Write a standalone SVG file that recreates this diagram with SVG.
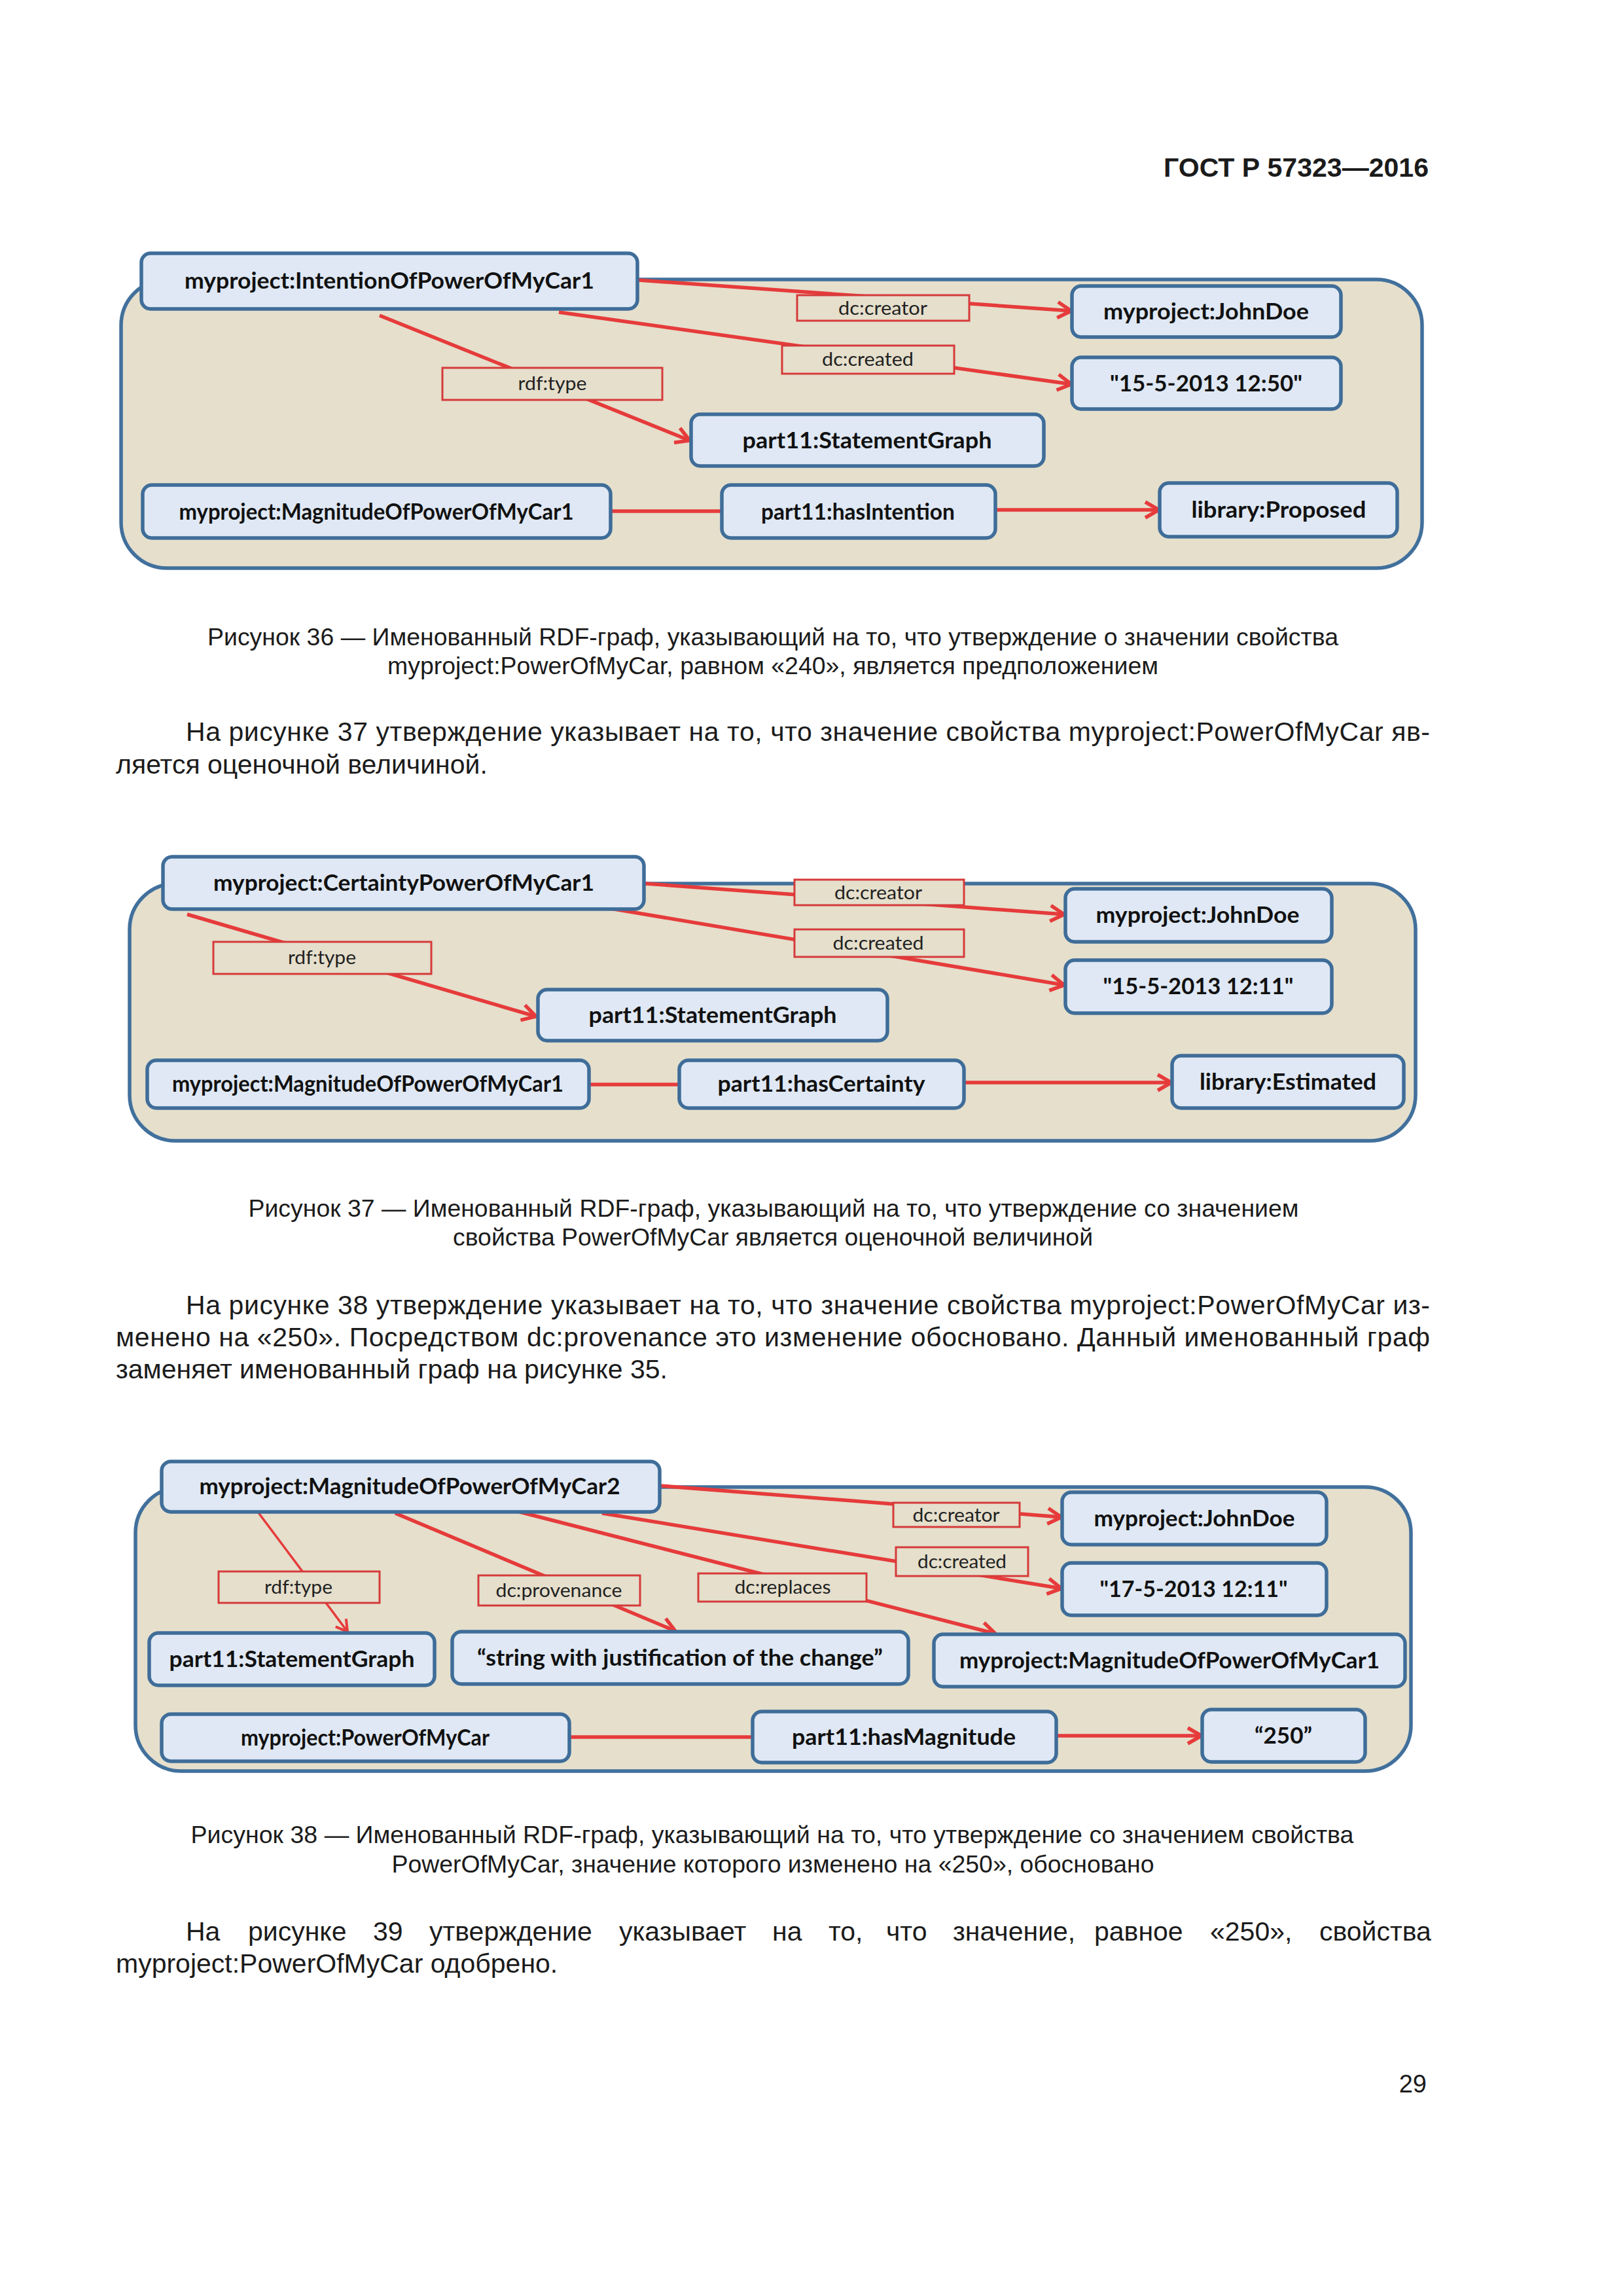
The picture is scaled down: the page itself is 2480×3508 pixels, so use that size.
<svg xmlns="http://www.w3.org/2000/svg" width="2480" height="3508" viewBox="0 0 2480 3508">
<defs>
<style>
.cont{fill:#e5dfcc;stroke:#41709c;stroke-width:5.5}
.node{fill:#dfe8f4;stroke:#3f6d99;stroke-width:5.5}
.lbl{fill:#e5dfcc;stroke:#d63a3a;stroke-width:3}
.ln{stroke:#e63b3b;stroke-width:5.5;fill:none}
.lnt{stroke:#e63b3b;stroke-width:3.5;fill:none}
.arr{marker-end:url(#arr)}
.arrt{marker-end:url(#arrt)}
.nt{font-family:Lato,"Liberation Sans",sans-serif;font-weight:700;font-size:34px;fill:#111;text-anchor:middle}
.lt{font-family:Lato,"Liberation Sans",sans-serif;font-size:29px;fill:#222;text-anchor:middle}
.body{font-family:"Liberation Sans",Arial,sans-serif;font-size:41px;fill:#1b1b1b}
.cap{font-family:"Liberation Sans",Arial,sans-serif;font-size:37px;fill:#1b1b1b;text-anchor:middle}
.hdr{font-family:"Liberation Sans",Arial,sans-serif;font-size:41px;font-weight:700;fill:#1b1b1b;text-anchor:end}
.pg{font-family:"Liberation Sans",Arial,sans-serif;font-size:38px;fill:#1b1b1b;text-anchor:end}
</style>
<marker id="arr" viewBox="0 0 26 26" refX="23" refY="13" markerWidth="26" markerHeight="26" markerUnits="userSpaceOnUse" orient="auto" overflow="visible">
<path d="M2,1 L23,13 L2,25" fill="none" stroke="#e63b3b" stroke-width="5.5"/>
</marker>
<marker id="arrt" viewBox="0 0 24 24" refX="21" refY="12" markerWidth="24" markerHeight="24" markerUnits="userSpaceOnUse" orient="auto" overflow="visible">
<path d="M4,2 L21,12 L4,22" fill="none" stroke="#e63b3b" stroke-width="4"/>
</marker>
</defs>
<rect width="2480" height="3508" fill="#ffffff"/>

<text id="header" class="hdr" x="2183" y="270" textLength="405" lengthAdjust="spacingAndGlyphs">ГОСТ Р 57323—2016</text>

<!-- ================= Figure 36 ================= -->
<g id="fig36">
<rect id="f36-container" class="cont" x="185" y="427" width="1988" height="441" rx="70"/>
<g id="f36-connectors">
<line class="ln arr" x1="976" y1="428" x2="1637" y2="475"/>
<rect class="lbl" x="1218" y="451" width="263" height="39"/>
<text class="lt" x="1349" y="481" textLength="136" lengthAdjust="spacingAndGlyphs">dc:creator</text>
<line class="ln arr" x1="854" y1="477" x2="1637" y2="587"/>
<rect class="lbl" x="1195" y="528" width="263" height="43"/>
<text class="lt" x="1326" y="559" textLength="140" lengthAdjust="spacingAndGlyphs">dc:created</text>
<line class="ln arr" x1="580" y1="482" x2="1054" y2="673"/>
<rect class="lbl" x="676" y="562" width="336" height="49"/>
<text class="lt" x="844" y="596" textLength="105" lengthAdjust="spacingAndGlyphs">rdf:type</text>
<line class="ln" x1="933" y1="781" x2="1103" y2="781"/>
<line class="ln arr" x1="1521" y1="779" x2="1771" y2="779"/>
</g>
<g id="f36-n-intention"><rect class="node" x="216" y="387" width="758" height="85" rx="14"/><text class="nt" x="595" y="441" textLength="626" lengthAdjust="spacingAndGlyphs">myproject:IntentionOfPowerOfMyCar1</text></g>
<g id="f36-n-johndoe"><rect class="node" x="1638" y="437" width="411" height="78" rx="14"/><text class="nt" x="1843" y="488" textLength="314" lengthAdjust="spacingAndGlyphs">myproject:JohnDoe</text></g>
<g id="f36-n-date"><rect class="node" x="1638" y="546" width="411" height="79" rx="14"/><text class="nt" x="1843" y="598" textLength="294" lengthAdjust="spacingAndGlyphs">"15-5-2013 12:50"</text></g>
<g id="f36-n-statementgraph"><rect class="node" x="1056" y="633" width="539" height="79" rx="14"/><text class="nt" x="1325" y="685" textLength="381" lengthAdjust="spacingAndGlyphs">part11:StatementGraph</text></g>
<g id="f36-n-magnitude1"><rect class="node" x="218" y="741" width="715" height="81" rx="14"/><text class="nt" x="575" y="794" textLength="603" lengthAdjust="spacingAndGlyphs">myproject:MagnitudeOfPowerOfMyCar1</text></g>
<g id="f36-n-hasintention"><rect class="node" x="1103" y="741" width="418" height="81" rx="14"/><text class="nt" x="1311" y="794" textLength="296" lengthAdjust="spacingAndGlyphs">part11:hasIntention</text></g>
<g id="f36-n-proposed"><rect class="node" x="1772" y="738" width="363" height="82" rx="14"/><text class="nt" x="1954" y="791" textLength="267" lengthAdjust="spacingAndGlyphs">library:Proposed</text></g>
</g>

<text class="cap" x="1181" y="986" textLength="1728" lengthAdjust="spacingAndGlyphs">Рисунок 36 — Именованный RDF-граф, указывающий на то, что утверждение о значении свойства</text>
<text class="cap" x="1181" y="1030" textLength="1178" lengthAdjust="spacingAndGlyphs">myproject:PowerOfMyCar, равном «240», является предположением</text>

<text class="body" x="284" y="1132" textLength="1901" lengthAdjust="spacing">На рисунке 37 утверждение указывает на то, что значение свойства myproject:PowerOfMyCar яв-</text>
<text class="body" x="177" y="1182">ляется оценочной величиной.</text>

<!-- ================= Figure 37 ================= -->
<g id="fig37">
<rect id="f37-container" class="cont" x="198" y="1350" width="1965" height="393" rx="70"/>
<g id="f37-connectors">
<line class="ln arr" x1="986" y1="1350" x2="1626" y2="1397"/>
<rect class="lbl" x="1214" y="1344" width="259" height="39"/>
<text class="lt" x="1342" y="1374" textLength="134" lengthAdjust="spacingAndGlyphs">dc:creator</text>
<line class="ln arr" x1="903" y1="1383" x2="1626" y2="1505"/>
<rect class="lbl" x="1214" y="1420" width="259" height="42"/>
<text class="lt" x="1342" y="1451" textLength="139" lengthAdjust="spacingAndGlyphs">dc:created</text>
<line class="ln arr" x1="286" y1="1397" x2="819" y2="1553"/>
<rect class="lbl" x="326" y="1439" width="333" height="49"/>
<text class="lt" x="492" y="1473" textLength="104" lengthAdjust="spacingAndGlyphs">rdf:type</text>
<line class="ln" x1="900" y1="1657" x2="1038" y2="1657"/>
<line class="ln arr" x1="1473" y1="1654" x2="1790" y2="1654"/>
</g>
<g id="f37-n-certainty"><rect class="node" x="249" y="1309" width="735" height="80" rx="14"/><text class="nt" x="617" y="1361" textLength="582" lengthAdjust="spacingAndGlyphs">myproject:CertaintyPowerOfMyCar1</text></g>
<g id="f37-n-johndoe"><rect class="node" x="1628" y="1358" width="407" height="81" rx="14"/><text class="nt" x="1830" y="1410" textLength="311" lengthAdjust="spacingAndGlyphs">myproject:JohnDoe</text></g>
<g id="f37-n-date"><rect class="node" x="1628" y="1467" width="407" height="81" rx="14"/><text class="nt" x="1831" y="1519" textLength="291" lengthAdjust="spacingAndGlyphs">"15-5-2013 12:11"</text></g>
<g id="f37-n-statementgraph"><rect class="node" x="822" y="1512" width="534" height="78" rx="14"/><text class="nt" x="1089" y="1563" textLength="379" lengthAdjust="spacingAndGlyphs">part11:StatementGraph</text></g>
<g id="f37-n-magnitude1"><rect class="node" x="225" y="1620" width="675" height="73" rx="14"/><text class="nt" x="562" y="1668" textLength="598" lengthAdjust="spacingAndGlyphs">myproject:MagnitudeOfPowerOfMyCar1</text></g>
<g id="f37-n-hascertainty"><rect class="node" x="1038" y="1620" width="435" height="73" rx="14"/><text class="nt" x="1255" y="1668" textLength="317" lengthAdjust="spacingAndGlyphs">part11:hasCertainty</text></g>
<g id="f37-n-estimated"><rect class="node" x="1791" y="1613" width="354" height="80" rx="14"/><text class="nt" x="1968" y="1665" textLength="270" lengthAdjust="spacingAndGlyphs">library:Estimated</text></g>
</g>

<text class="cap" x="1182" y="1859" textLength="1605" lengthAdjust="spacingAndGlyphs">Рисунок 37 — Именованный RDF-граф, указывающий на то, что утверждение со значением</text>
<text class="cap" x="1181" y="1903" textLength="978" lengthAdjust="spacingAndGlyphs">свойства PowerOfMyCar является оценочной величиной</text>

<text class="body" x="284" y="2008" textLength="1901" lengthAdjust="spacing">На рисунке 38 утверждение указывает на то, что значение свойства myproject:PowerOfMyCar из-</text>
<text class="body" x="177" y="2057" textLength="2008" lengthAdjust="spacing">менено на «250». Посредством dc:provenance это изменение обосновано. Данный именованный граф</text>
<text class="body" x="177" y="2106">заменяет именованный граф на рисунке 35.</text>

<!-- ================= Figure 38 ================= -->
<g id="fig38">
<rect id="f38-container" class="cont" x="207" y="2272" width="1949" height="434" rx="70"/>
<g id="f38-connectors">
<line class="ln arr" x1="1008" y1="2270" x2="1622" y2="2318"/>
<rect class="lbl" x="1365" y="2296" width="193" height="37"/>
<text class="lt" x="1461" y="2325" textLength="133" lengthAdjust="spacingAndGlyphs">dc:creator</text>
<line class="ln arr" x1="920" y1="2312" x2="1622" y2="2427"/>
<rect class="lbl" x="1369" y="2364" width="202" height="44"/>
<text class="lt" x="1470" y="2396" textLength="136" lengthAdjust="spacingAndGlyphs">dc:created</text>
<line class="ln arr" x1="794" y1="2310" x2="1521" y2="2496"/>
<rect class="lbl" x="1067" y="2404" width="257" height="43"/>
<text class="lt" x="1196" y="2435" textLength="147" lengthAdjust="spacingAndGlyphs">dc:replaces</text>
<line class="ln arr" x1="604" y1="2312" x2="1032" y2="2492"/>
<rect class="lbl" x="731" y="2407" width="247" height="46"/>
<text class="lt" x="854" y="2440" textLength="193" lengthAdjust="spacingAndGlyphs">dc:provenance</text>
<line class="lnt arrt" x1="394" y1="2310" x2="531" y2="2493"/>
<rect class="lbl" x="334" y="2401" width="246" height="48"/>
<text class="lt" x="456" y="2435" textLength="104" lengthAdjust="spacingAndGlyphs">rdf:type</text>
<line class="ln" x1="870" y1="2654" x2="1150" y2="2654"/>
<line class="ln arr" x1="1614" y1="2652" x2="1836" y2="2652"/>
</g>
<g id="f38-n-magnitude2"><rect class="node" x="247" y="2233" width="761" height="77" rx="14"/><text class="nt" x="626" y="2283" textLength="643" lengthAdjust="spacingAndGlyphs">myproject:MagnitudeOfPowerOfMyCar2</text></g>
<g id="f38-n-johndoe"><rect class="node" x="1623" y="2280" width="404" height="80" rx="14"/><text class="nt" x="1825" y="2332" textLength="307" lengthAdjust="spacingAndGlyphs">myproject:JohnDoe</text></g>
<g id="f38-n-date"><rect class="node" x="1623" y="2388" width="404" height="80" rx="14"/><text class="nt" x="1824" y="2440" textLength="287" lengthAdjust="spacingAndGlyphs">"17-5-2013 12:11"</text></g>
<g id="f38-n-statementgraph"><rect class="node" x="228" y="2495" width="436" height="80" rx="14"/><text class="nt" x="446" y="2547" textLength="375" lengthAdjust="spacingAndGlyphs">part11:StatementGraph</text></g>
<g id="f38-n-string"><rect class="node" x="691" y="2493" width="697" height="80" rx="14"/><text class="nt" x="1039" y="2545" textLength="620" lengthAdjust="spacingAndGlyphs">“string with justification of the change”</text></g>
<g id="f38-n-magnitude1"><rect class="node" x="1427" y="2497" width="720" height="80" rx="14"/><text class="nt" x="1787" y="2549" textLength="642" lengthAdjust="spacingAndGlyphs">myproject:MagnitudeOfPowerOfMyCar1</text></g>
<g id="f38-n-powerofmycar"><rect class="node" x="247" y="2619" width="623" height="72" rx="14"/><text class="nt" x="558" y="2667" textLength="380" lengthAdjust="spacingAndGlyphs">myproject:PowerOfMyCar</text></g>
<g id="f38-n-hasmagnitude"><rect class="node" x="1150" y="2615" width="464" height="78" rx="14"/><text class="nt" x="1381" y="2666" textLength="342" lengthAdjust="spacingAndGlyphs">part11:hasMagnitude</text></g>
<g id="f38-n-250"><rect class="node" x="1837" y="2612" width="249" height="80" rx="14"/><text class="nt" x="1961" y="2664" textLength="88" lengthAdjust="spacingAndGlyphs">“250”</text></g>
</g>

<text class="cap" x="1180" y="2816" textLength="1777" lengthAdjust="spacingAndGlyphs">Рисунок 38 — Именованный RDF-граф, указывающий на то, что утверждение со значением свойства</text>
<text class="cap" x="1181" y="2861" textLength="1165" lengthAdjust="spacingAndGlyphs">PowerOfMyCar, значение которого изменено на «250», обосновано</text>

<text class="body" y="2965"><tspan x="284">На</tspan><tspan x="379">рисунке</tspan><tspan x="570">39</tspan><tspan x="656">утверждение</tspan><tspan x="946">указывает</tspan><tspan x="1180">на</tspan><tspan x="1266">то,</tspan><tspan x="1354">что</tspan><tspan x="1456">значение,</tspan><tspan x="1672">равное</tspan><tspan x="1849">«250»,</tspan><tspan x="2016">свойства</tspan></text>
<text class="body" x="177" y="3014">myproject:PowerOfMyCar одобрено.</text>

<text class="pg" x="2180" y="3197">29</text>
</svg>
